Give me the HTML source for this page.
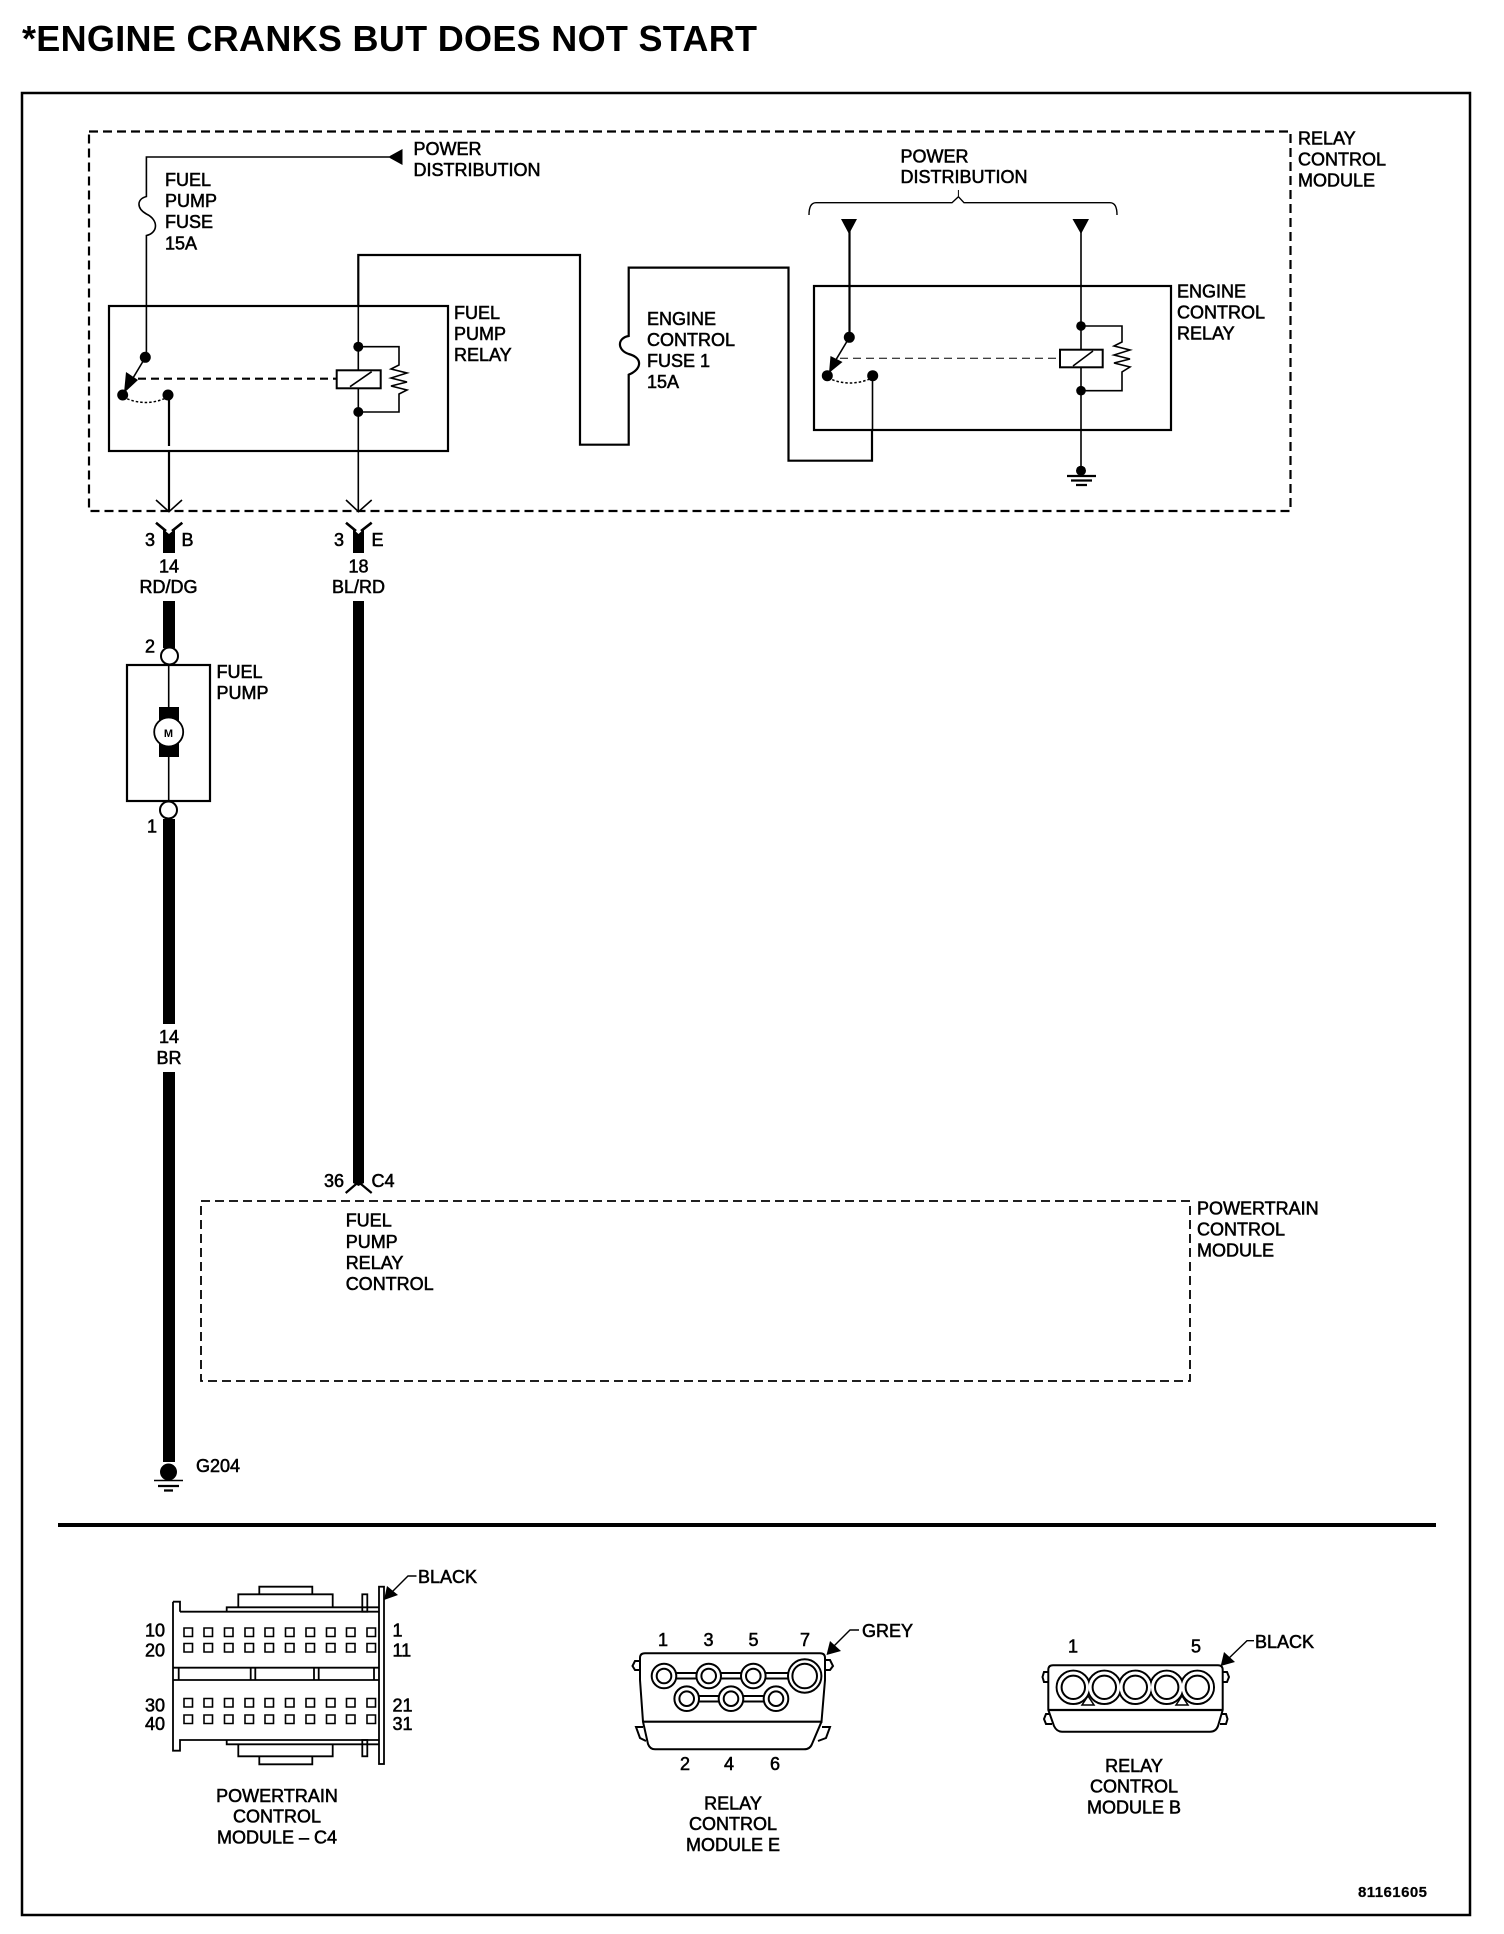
<!DOCTYPE html>
<html><head><meta charset="utf-8"><title>Engine cranks but does not start</title>
<style>
html,body{margin:0;padding:0;background:#fff}
svg{display:block}
text{font-family:"Liberation Sans",sans-serif;font-size:18px;fill:#000;stroke:#000;stroke-width:.55px}
.n{fill:none;stroke:#000;stroke-width:1.6}
.m{fill:none;stroke:#000;stroke-width:2.2}
.f{fill:#000;stroke:none}
.c{text-anchor:middle}
.w{fill:#fff;stroke:#000;stroke-width:1.5}
.b{fill:none;stroke:#000;stroke-width:1.4}
</style></head><body>
<svg xmlns="http://www.w3.org/2000/svg" width="1504" height="1934" viewBox="0 0 1504 1934">
<rect width="1504" height="1934" fill="#fff"/>
<text x="22" y="51" textLength="735" style="font-size:36px;font-weight:bold;stroke-width:0">*ENGINE CRANKS BUT DOES NOT START</text>
<rect x="22" y="93" width="1448" height="1822" fill="none" stroke="#000" stroke-width="2.5"/>

<!-- Relay control module -->
<rect x="89" y="131.5" width="1201.5" height="379.5" fill="none" stroke="#000" stroke-width="2.2" stroke-dasharray="9 5"/>
<text x="1298" y="144.5">RELAY</text><text x="1298" y="165.5">CONTROL</text><text x="1298" y="186.5">MODULE</text>

<!-- Fuel pump fuse wire -->
<path class="n" d="M389 157H146.4V196.5C137 199 136 208 146.4 214C159 220 158 233 146.4 235.5V357"/>
<polygon class="f" points="388,157 402.5,149 402.5,165"/>
<text x="413.5" y="155">POWER</text><text x="413.5" y="176">DISTRIBUTION</text>
<text x="165" y="186">FUEL</text><text x="165" y="207">PUMP</text><text x="165" y="228">FUSE</text><text x="165" y="249.5">15A</text>

<!-- Fuel pump relay -->
<rect x="109" y="306" width="339" height="145" fill="none" stroke="#000" stroke-width="2.2"/>
<text x="454" y="319">FUEL</text><text x="454" y="340">PUMP</text><text x="454" y="361">RELAY</text>
<circle class="f" cx="145.3" cy="357.3" r="5.5"/><circle class="f" cx="122.7" cy="395" r="5.5"/><circle class="f" cx="168" cy="395" r="5.5"/>
<path class="n" d="M145 358L127 388"/>
<polygon class="f" points="124,393 126,372 138,380"/>
<path class="m" d="M138 378.7H336" stroke-dasharray="8 5"/>
<path fill="none" stroke="#000" stroke-width="1.5" stroke-dasharray="2.5 2" d="M123 397Q146 408 168 397"/>
<path class="m" d="M169 397V446M169 451V511"/>
<path class="n" d="M358.3 306V511"/>
<circle class="f" cx="358.3" cy="346.7" r="5"/><circle class="f" cx="358.3" cy="412" r="5"/>
<path class="n" d="M358.3 346.7H399V365L391 369L407 373L391 378L407 382L391 386L407 390L399 394V412H358.3"/>
<rect x="336.7" y="370.3" width="44" height="18" fill="#fff" stroke="#000" stroke-width="2"/>
<path class="n" d="M350 386.7L371.7 371.7"/>

<!-- Engine control fuse wire -->
<path class="m" d="M358.3 306V255H580V444.7H628.7V374.7C641 370 644 358 628.7 354C617 350 617 338 628.7 336V267.6H788.5V460.7H872V430"/>
<path class="n" d="M872.5 430V376"/>
<text x="647" y="325">ENGINE</text><text x="647" y="346">CONTROL</text><text x="647" y="367">FUSE 1</text><text x="647" y="388">15A</text>

<!-- Engine control relay -->
<text x="900.5" y="162.5">POWER</text><text x="900.5" y="183">DISTRIBUTION</text>
<path class="b" d="M809 215Q809 202.7 816 202.7H952L958.4 196.7L964 202.7H1110Q1117 202.7 1117 215"/>
<path class="m" d="M958.4 196V190" style="stroke-width:1"/>
<polygon class="f" points="841,219 857,219 849,234"/><polygon class="f" points="1072.5,219 1089,219 1081,234"/>
<path class="m" d="M849.5 230V337"/>
<path class="n" d="M1081 230V471"/>
<rect x="814" y="286" width="357" height="144" fill="none" stroke="#000" stroke-width="2.2"/>
<text x="1177" y="297.5">ENGINE</text><text x="1177" y="318.5">CONTROL</text><text x="1177" y="339.5">RELAY</text>
<circle class="f" cx="849.3" cy="337.3" r="5.5"/><circle class="f" cx="827.3" cy="375.7" r="5.5"/><circle class="f" cx="872.7" cy="375.7" r="5.5"/>
<path class="n" d="M849 338L831 368"/>
<polygon class="f" points="829,373 830.5,356 842.5,362"/>
<path fill="none" stroke="#000" stroke-width="1" stroke-dasharray="8 5" d="M840 358.3H1060"/>
<path fill="none" stroke="#000" stroke-width="1.5" stroke-dasharray="2.5 2" d="M828 378Q850 388 872 378"/>
<circle class="f" cx="1081" cy="326" r="4.8"/><circle class="f" cx="1081" cy="390.7" r="4.8"/>
<path class="n" d="M1081 326H1122V342L1114 346L1130 350L1114 355L1130 359L1114 363L1130 367L1122 372V390.7H1081"/>
<rect x="1060" y="349.7" width="42.7" height="17.6" fill="#fff" stroke="#000" stroke-width="2"/>
<path class="n" d="M1073 366L1093 351"/>
<circle class="f" cx="1081" cy="470.7" r="5"/>
<path class="m" d="M1067 476H1096M1071 480.5H1092M1076 485H1087"/>

<!-- Connectors upper chevrons -->
<path class="n" d="M156 500L169 511.7L182 500M346 500L358.5 511.7L371.7 500"/>
<path class="m" d="M156 522.7L166 531M182.3 522.7L172 531M346 522.7L356 531M371.7 522.7L361 531" style="stroke-width:2.6"/>
<polygon class="f" points="163,529 169,534 175,529 175,553 163,553"/>
<polygon class="f" points="353,529 358.5,534 364,529 364,553 353,553"/>
<text x="145" y="546">3</text><text x="181.5" y="546">B</text>
<text x="334" y="546">3</text><text x="371.5" y="546">E</text>
<text class="c" x="169" y="572.5">14</text><text class="c" x="168.5" y="593">RD/DG</text>
<text class="c" x="358.5" y="572.5">18</text><text class="c" x="358.5" y="593">BL/RD</text>

<!-- Thick wires -->
<rect class="f" x="163" y="601" width="12" height="47"/>
<rect class="f" x="163" y="819" width="12" height="205"/>
<rect class="f" x="163" y="1072" width="12" height="390"/>
<polygon class="f" points="353,601 364,601 364,1183 358.5,1186 353,1183"/>
<path class="m" d="M358.5 1182L345.7 1193M358.5 1182L371.7 1193"/>

<!-- Fuel pump -->
<text x="145" y="652.7">2</text><text x="147" y="832.7">1</text>
<rect x="127" y="665" width="83" height="136" fill="none" stroke="#000" stroke-width="2.2"/>
<path class="n" d="M168.7 665V801"/>
<rect class="f" x="159" y="707" width="20" height="50"/>
<circle cx="168.7" cy="732" r="14.5" fill="#fff" stroke="#000" stroke-width="1.8"/>
<text class="c" x="168.5" y="737" style="font-size:11px;font-weight:bold;stroke-width:0">M</text>
<circle cx="169.5" cy="656" r="8.5" fill="#fff" stroke="#000" stroke-width="2"/>
<circle cx="168.5" cy="810" r="8.5" fill="#fff" stroke="#000" stroke-width="2"/>
<text x="216.5" y="678">FUEL</text><text x="216.5" y="699">PUMP</text>
<text class="c" x="169" y="1043">14</text><text class="c" x="169" y="1064">BR</text>

<!-- Ground G204 -->
<circle class="f" cx="168.5" cy="1472" r="8.5"/>
<path class="n" d="M154 1480.5H183"/><path class="m" d="M158 1486H179M164 1490.5H173"/>
<text x="196" y="1472">G204</text>

<!-- PCM -->
<text x="324" y="1187">36</text><text x="371.5" y="1187">C4</text>
<rect x="201" y="1201" width="989" height="180" fill="none" stroke="#000" stroke-width="1.8" stroke-dasharray="9 5"/>
<text x="345.7" y="1226.7">FUEL</text><text x="345.7" y="1248">PUMP</text><text x="345.7" y="1269">RELAY</text><text x="345.7" y="1290">CONTROL</text>
<text x="1197" y="1214.5">POWERTRAIN</text><text x="1197" y="1235.5">CONTROL</text><text x="1197" y="1256.5">MODULE</text>

<!-- Divider -->
<rect class="f" x="58" y="1523" width="1378" height="4"/>

<!-- Powertrain C4 connector -->
<g class="m" style="stroke-width:1.8">
<path d="M180 1611.7H379M173 1601.7H180V1611.7M173 1601.7V1750.7H180V1740H379"/>
<rect x="379" y="1586.7" width="5" height="177.3"/>
<path d="M238.3 1607.3V1594.3H332.7V1607.3M259.3 1594.3V1586.7H312.3V1594.3M226.7 1611.7V1607.3H379"/>
<rect x="362.3" y="1594.3" width="5" height="17.4"/>
<path d="M226.7 1740V1744.3H379M238.3 1744.3V1756.3H332.7V1744.3M259.3 1756.3V1764.3H312.3V1756.3"/>
<rect x="362.3" y="1740" width="5" height="16.3"/>
<path d="M173 1667.7H379M173 1680H379M178.7 1667.7V1680M250.7 1667.7V1680M255.3 1667.7V1680M314 1667.7V1680M318.7 1667.7V1680M374 1667.7V1680"/>
</g>
<g fill="none" stroke="#000" stroke-width="1.6">
<path d="M184 1628h8.5v8.5h-8.5zM204 1628h8.5v8.5h-8.5zM224.5 1628h8.5v8.5h-8.5zM245 1628h8.5v8.5h-8.5zM265 1628h8.5v8.5h-8.5zM285.5 1628h8.5v8.5h-8.5zM306 1628h8.5v8.5h-8.5zM326.5 1628h8.5v8.5h-8.5zM346.5 1628h8.5v8.5h-8.5zM367 1628h8.5v8.5h-8.5z"/>
<path d="M184 1643.5h8.5v8.5h-8.5zM204 1643.5h8.5v8.5h-8.5zM224.5 1643.5h8.5v8.5h-8.5zM245 1643.5h8.5v8.5h-8.5zM265 1643.5h8.5v8.5h-8.5zM285.5 1643.5h8.5v8.5h-8.5zM306 1643.5h8.5v8.5h-8.5zM326.5 1643.5h8.5v8.5h-8.5zM346.5 1643.5h8.5v8.5h-8.5zM367 1643.5h8.5v8.5h-8.5z"/>
<path d="M184 1698.5h8.5v8.5h-8.5zM204 1698.5h8.5v8.5h-8.5zM224.5 1698.5h8.5v8.5h-8.5zM245 1698.5h8.5v8.5h-8.5zM265 1698.5h8.5v8.5h-8.5zM285.5 1698.5h8.5v8.5h-8.5zM306 1698.5h8.5v8.5h-8.5zM326.5 1698.5h8.5v8.5h-8.5zM346.5 1698.5h8.5v8.5h-8.5zM367 1698.5h8.5v8.5h-8.5z"/>
<path d="M184 1715h8.5v8.5h-8.5zM204 1715h8.5v8.5h-8.5zM224.5 1715h8.5v8.5h-8.5zM245 1715h8.5v8.5h-8.5zM265 1715h8.5v8.5h-8.5zM285.5 1715h8.5v8.5h-8.5zM306 1715h8.5v8.5h-8.5zM326.5 1715h8.5v8.5h-8.5zM346.5 1715h8.5v8.5h-8.5zM367 1715h8.5v8.5h-8.5z"/>
</g>
<text x="145" y="1636.7">10</text><text x="145" y="1656.7">20</text><text x="145" y="1711.7">30</text><text x="145" y="1730">40</text>
<text x="392.5" y="1636.7">1</text><text x="392.5" y="1656.7">11</text><text x="392.5" y="1711.7">21</text><text x="392.5" y="1730">31</text>
<path class="b" d="M416.5 1576H408L388 1596"/>
<polygon class="f" points="384,1600 387,1586 398,1595"/>
<text x="418" y="1583">BLACK</text>
<text class="c" x="277" y="1802">POWERTRAIN</text><text class="c" x="277" y="1822.5">CONTROL</text><text class="c" x="277" y="1843.5">MODULE – C4</text>

<!-- Relay Control Module E connector -->
<text class="c" x="663" y="1646">1</text><text class="c" x="708.5" y="1646">3</text><text class="c" x="753.5" y="1646">5</text><text class="c" x="805" y="1646">7</text>
<text class="c" x="685" y="1770">2</text><text class="c" x="729" y="1770">4</text><text class="c" x="775" y="1770">6</text>
<g fill="none" stroke="#000" stroke-width="2">
<path d="M640 1658Q640 1653.3 645 1653.3H820Q825 1653.3 825 1658V1680L821.5 1721.7L812 1744Q810 1749.3 804 1749.3H655Q650 1749.3 648 1744L643 1721.7L640 1680Z"/>
<path d="M642.5 1721.7H822.5" stroke-width="2.2"/>
<path d="M640 1661H635L632.5 1666L635 1670H640M825 1660H830L833 1666L830 1670H825"/>
<path d="M643 1727H636L640 1738L646 1741M822 1727H830L826 1738L818 1741"/>
<path d="M676 1673H696.5M676 1678.5H696.5M721 1673H741M721 1678.5H741M765.5 1673H788M765.5 1678.5H788"/>
<path d="M699 1696H719M699 1701.5H719M743 1696H764M743 1701.5H764"/>
</g>
<g fill="#fff" stroke="#000" stroke-width="2">
<circle cx="664" cy="1676" r="12.3"/><circle cx="664" cy="1676" r="7.3"/>
<circle cx="708.7" cy="1676" r="12.3"/><circle cx="708.7" cy="1676" r="7.3"/>
<circle cx="753.3" cy="1676" r="12.3"/><circle cx="753.3" cy="1676" r="7.3"/>
<circle cx="804.7" cy="1676" r="16.7"/><circle cx="804.7" cy="1676" r="12.3"/>
<circle cx="686.7" cy="1698.7" r="12.3"/><circle cx="686.7" cy="1698.7" r="7.3"/>
<circle cx="731" cy="1698.7" r="12.3"/><circle cx="731" cy="1698.7" r="7.3"/>
<circle cx="776" cy="1698.7" r="12.3"/><circle cx="776" cy="1698.7" r="7.3"/>
</g>
<path class="b" d="M859 1630H850L831 1649"/>
<polygon class="f" points="826.5,1655 830,1641 841,1651"/>
<text x="862" y="1637">GREY</text>
<text class="c" x="733" y="1809.5">RELAY</text><text class="c" x="733" y="1830">CONTROL</text><text class="c" x="733" y="1851">MODULE E</text>

<!-- Relay Control Module B connector -->
<text class="c" x="1073" y="1652.5">1</text><text class="c" x="1196" y="1652.5">5</text>
<g fill="none" stroke="#000" stroke-width="2">
<path d="M1048.3 1670Q1048.3 1665.3 1053 1665.3H1218Q1222.7 1665.3 1222.7 1670V1710L1218 1726Q1216 1731.7 1210 1731.7H1062Q1056.7 1731.7 1054 1726L1048.3 1710Z"/>
<path d="M1049 1710H1222" stroke-width="2.2"/>
<path d="M1048 1672H1044L1042.5 1677L1044 1682H1048M1223 1672H1227L1229 1677L1227 1682H1223"/>
<path d="M1049 1714H1046L1044 1719L1046 1724H1052M1222 1714H1226L1227.5 1719L1226 1724H1220"/>
</g>
<g fill="none" stroke="#000" stroke-width="2">
<circle cx="1073.3" cy="1687.3" r="16.7"/><circle cx="1104.3" cy="1687.3" r="16.7"/><circle cx="1135.3" cy="1687.3" r="16.7"/><circle cx="1166.7" cy="1687.3" r="16.7"/><circle cx="1197.3" cy="1687.3" r="16.7"/>
</g>
<g fill="#fff" stroke="none">
<circle cx="1073.3" cy="1687.3" r="15.7"/><circle cx="1104.3" cy="1687.3" r="15.7"/><circle cx="1135.3" cy="1687.3" r="15.7"/><circle cx="1166.7" cy="1687.3" r="15.7"/><circle cx="1197.3" cy="1687.3" r="15.7"/>
</g>
<g fill="none" stroke="#000" stroke-width="2">
<circle cx="1073.3" cy="1687.3" r="11.7"/><circle cx="1104.3" cy="1687.3" r="11.7"/><circle cx="1135.3" cy="1687.3" r="11.7"/><circle cx="1166.7" cy="1687.3" r="11.7"/><circle cx="1197.3" cy="1687.3" r="11.7"/>
<path d="M1082 1705L1088 1696L1094 1705H1082ZM1176 1705L1182 1696L1188 1705H1176Z" stroke-width="1.5"/>
</g>
<path class="b" d="M1254 1640.7H1247L1226 1661"/>
<polygon class="f" points="1220.7,1666 1224,1652 1235,1662"/>
<text x="1255" y="1648">BLACK</text>
<text class="c" x="1134" y="1772">RELAY</text><text class="c" x="1134" y="1792.5">CONTROL</text><text class="c" x="1134" y="1813.5">MODULE B</text>

<text x="1358" y="1897" textLength="69" style="font-size:15px;font-weight:bold;stroke-width:.2px">81161605</text>
</svg>
</body></html>
